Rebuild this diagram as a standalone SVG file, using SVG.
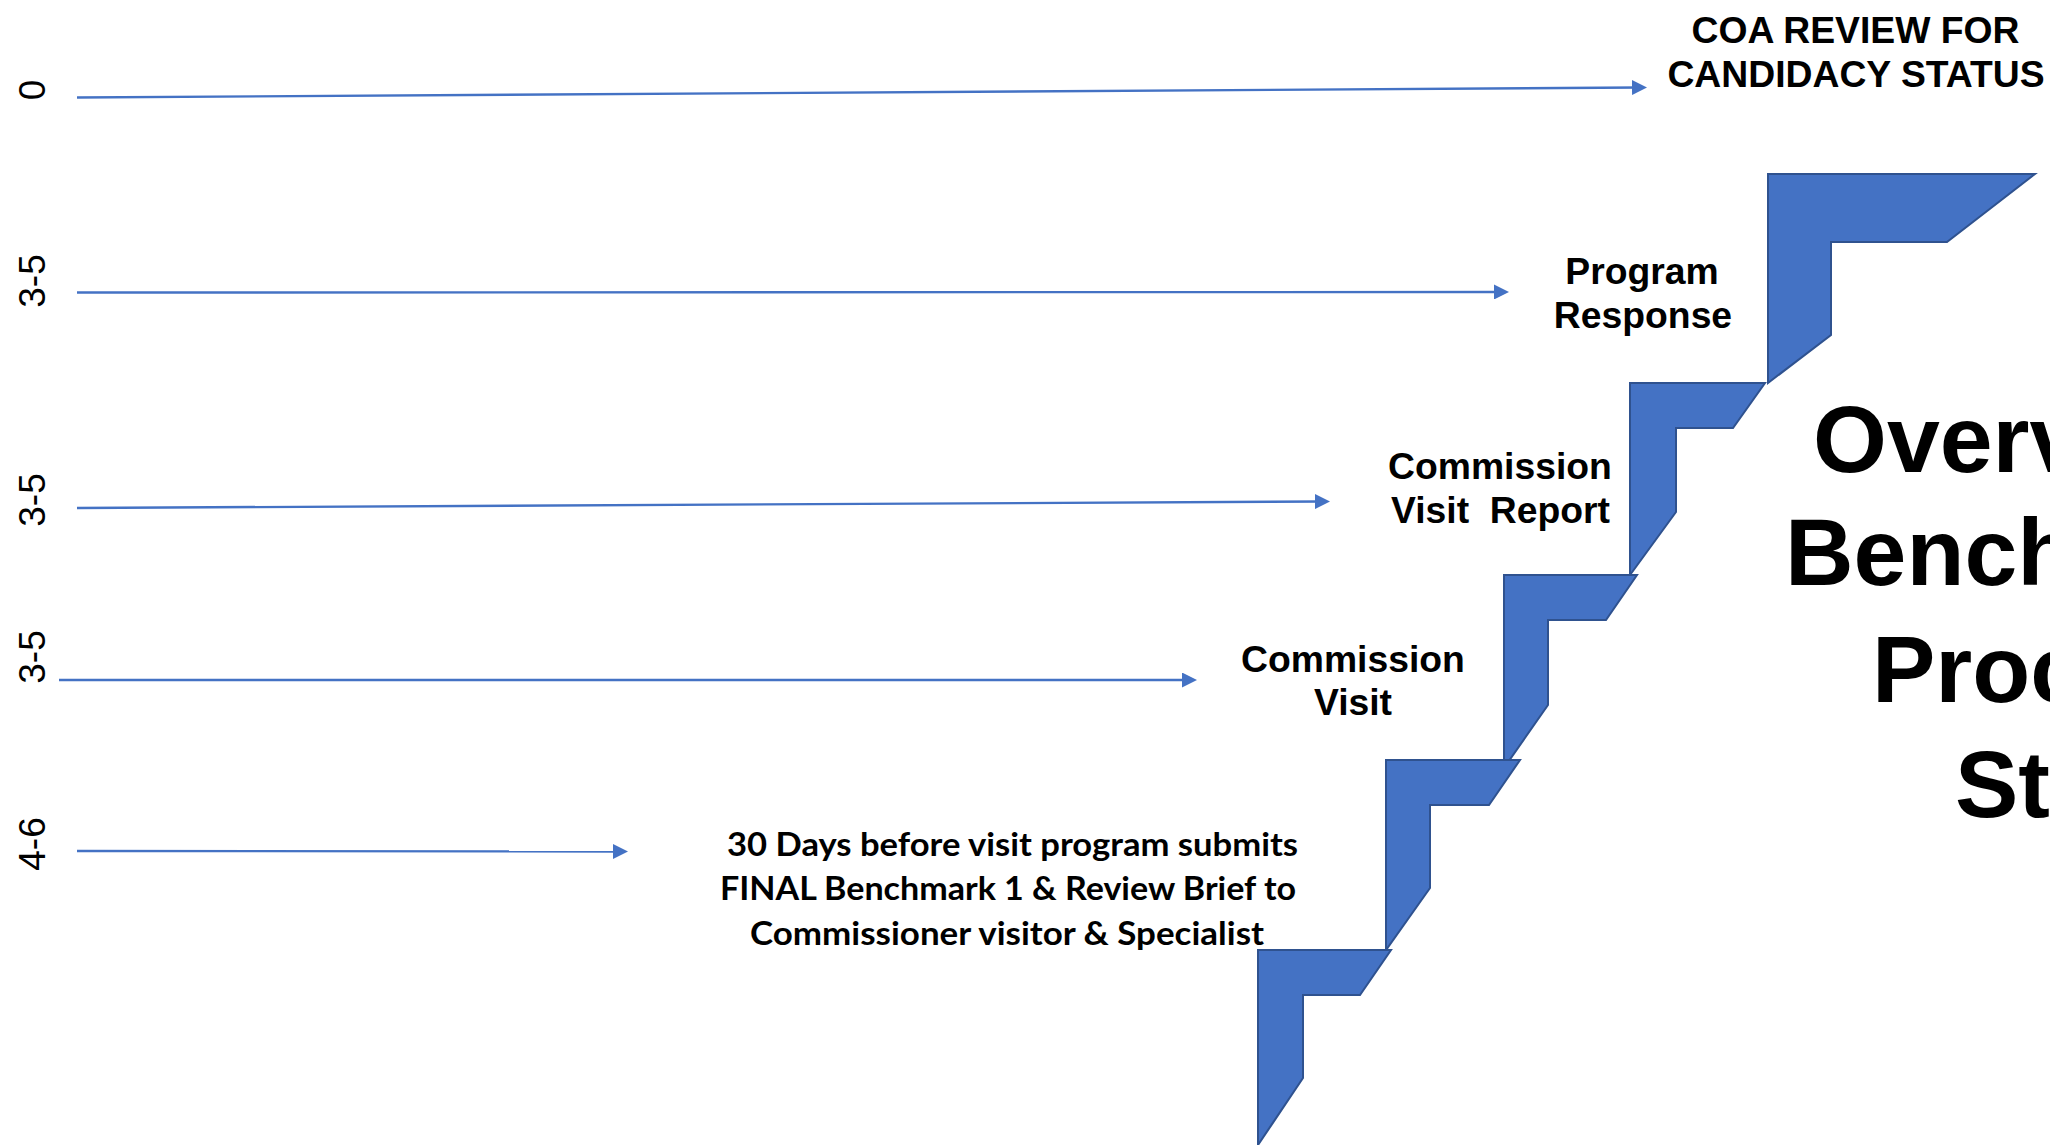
<svg xmlns="http://www.w3.org/2000/svg" width="2050" height="1145" viewBox="0 0 2050 1145">
<defs>
<style>
.lbl{font-family:"Liberation Sans",Arial,sans-serif;font-weight:bold;font-size:37.3px;fill:#000;text-anchor:middle}
.num{font-family:"Liberation Sans",Arial,sans-serif;font-size:37px;fill:#000;text-anchor:middle}
.title{font-family:"Liberation Sans",Arial,sans-serif;font-weight:bold;font-size:95px;fill:#000}
.note{font-family:Lato,"Open Sans",sans-serif;font-weight:bold;font-size:33px;fill:#000}
.step{fill:#4472C4;stroke:#2F528F;stroke-width:2;stroke-linejoin:miter}
.arr{stroke:#4472C4;stroke-width:2.4;fill:none;marker-end:url(#ah)}
</style>
<marker id="ah" markerUnits="userSpaceOnUse" markerWidth="15" markerHeight="15" refX="7" refY="7.5" orient="auto">
<path d="M0,0 L15,7.5 L0,15 z" fill="#4472C4"/>
</marker>
</defs>
<rect width="2050" height="1145" fill="#fff"/>

<g id="steps">
<polygon id="step1" class="step" points="1768,174 2035,174 1947,242 1831,242 1831,335 1768,383"/>
<polygon id="step2" class="step" points="1630,383 1765,383 1733,428 1676,428 1676,512 1630,575"/>
<polygon id="step3" class="step" points="1504,575 1637,575 1606,620 1548,620 1548,705 1504,768"/>
<polygon id="step4" class="step" points="1386,760 1520,760 1489,805 1430,805 1430,888 1386,950"/>
<polygon id="step5" class="step" points="1258,950 1391,950 1360,995 1303,995 1303,1078 1258,1145"/>
</g>

<g id="connectors">
<line class="arr" x1="77" y1="97.5" x2="1639" y2="87.5"/>
<line class="arr" x1="77" y1="292.5" x2="1501" y2="292"/>
<line class="arr" x1="77" y1="508" x2="1322" y2="501.5"/>
<line class="arr" x1="59" y1="680" x2="1189" y2="680"/>
<line class="arr" x1="77" y1="851" x2="620" y2="851.5"/>
</g>

<g id="axis-labels">
<text class="num" transform="translate(45,90) rotate(-90)">0</text>
<text class="num" transform="translate(45,281) rotate(-90)">3-5</text>
<text class="num" transform="translate(45,500) rotate(-90)">3-5</text>
<text class="num" transform="translate(45,657) rotate(-90)">3-5</text>
<text class="num" transform="translate(45,844) rotate(-90)">4-6</text>
</g>

<g id="node-coa">
<text class="lbl" x="1855.5" y="43">COA REVIEW FOR</text>
<text class="lbl" x="1856" y="87">CANDIDACY STATUS</text>
</g>

<g id="node-program-response">
<text class="lbl" x="1642" y="284">Program</text>
<text class="lbl" x="1643" y="328">Response</text>
</g>

<g id="node-visit-report">
<text class="lbl" x="1500" y="479">Commission</text>
<text class="lbl" x="1500.5" y="523" xml:space="preserve">Visit  Report</text>
</g>

<g id="node-visit">
<text class="lbl" x="1353" y="672">Commission</text>
<text class="lbl" x="1353" y="715">Visit</text>
</g>

<g id="node-30days">
<text class="note" x="727" y="856" textLength="571" lengthAdjust="spacingAndGlyphs">30 Days before visit program submits</text>
<text class="note" x="720" y="900" textLength="576" lengthAdjust="spacingAndGlyphs">FINAL Benchmark 1 &amp; Review Brief to</text>
<text class="note" x="750" y="945" textLength="514" lengthAdjust="spacingAndGlyphs">Commissioner visitor &amp; Specialist</text>
</g>

<g id="node-title">
<text class="title" x="1813" y="472">Overv</text>
<text class="title" x="1785" y="585">Bench</text>
<text class="title" x="1872" y="702">Proc</text>
<text class="title" x="1955" y="817">St</text>
</g>
</svg>
